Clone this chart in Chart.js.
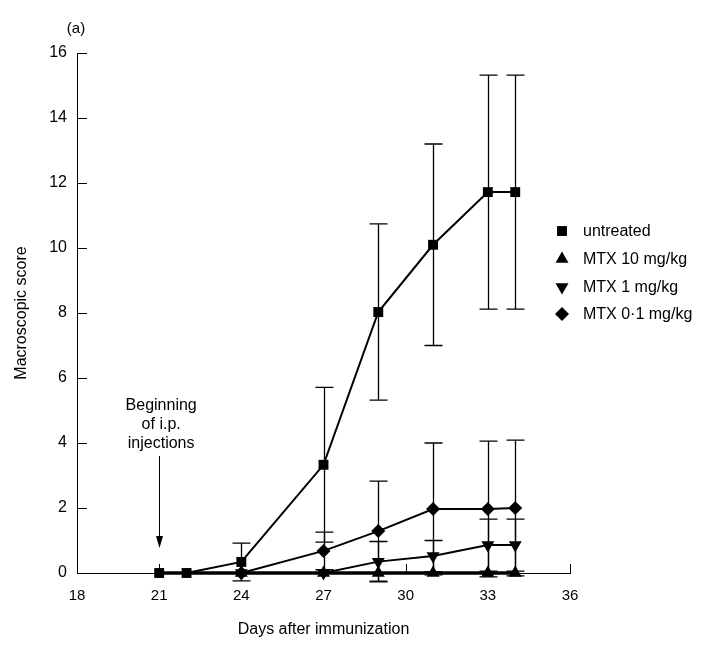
<!DOCTYPE html>
<html><head><meta charset="utf-8">
<script src="https://cdn.jsdelivr.net/npm/chart.js@4.4.0/dist/chart.umd.min.js"></script>
<style>html,body{margin:0;padding:0;background:#fff}#wrap{width:722px;height:656px;position:relative}</style>
</head><body><div id="wrap"><canvas id="c" width="722" height="656"></canvas></div>
<script>
const days = [21, 22, 24, 27, 29, 31, 33, 34];
const seriesLabels = ['untreated', 'MTX 10 mg/kg', 'MTX 1 mg/kg', 'MTX 0·1 mg/kg'];
const untreated    = [0, 0, 0.34, 3.33, 8.03, 10.1, 11.72, 11.72];
const untreatedErr = [0, 0, 0.58, 2.38, 2.71, 3.1, 3.6, 3.6];
const mtx10        = [0, 0, 0, 0, 0, 0, 0, 0];
const mtx10Err     = [0, 0, 0, 0, 0, 0, 0, 0];
const mtx1         = [0, 0, 0, 0, 0.35, 0.52, 0.86, 0.86];
const mtx1Err      = [0, 0, 0, 0, 0.62, 0.48, 0.8, 0.8];
const mtx01        = [0, 0, 0, 0.68, 1.29, 1.97, 1.97, 2.0];
const mtx01Err     = [0, 0, 0, 0.58, 1.54, 2.03, 2.09, 2.09];
const xTicks = [18, 21, 24, 27, 30, 33, 36];
const yTicks = [0, 2, 4, 6, 8, 10, 12, 14, 16];
const panelLabel = '(a)';
const noteLines = ['Beginning', 'of i.p.', 'injections'];
const noteDay = 21;

const FONT = '"Liberation Sans", Arial, Helvetica, sans-serif';
const pts = vals => days.map((d, i) => ({x: d, y: vals[i]}));
const styles = [
  {style: 'rect', rot: 0, r: 7},
  {style: 'triangle', rot: 0, r: 7.5},
  {style: 'triangle', rot: 180, r: 7.5},
  {style: 'rectRot', rot: 0, r: 7}
];
const errs = [untreatedErr, mtx10Err, mtx1Err, mtx01Err];
const values = [untreated, mtx10, mtx1, mtx01];

function mk(i, width) {
  return {
    label: seriesLabels[i],
    data: pts(values[i]),
    borderColor: '#000',
    backgroundColor: '#000',
    borderWidth: width,
    pointStyle: styles[i].style,
    rotation: styles[i].rot,
    pointRadius: ctx => (i > 0 && ctx.raw && ctx.raw.x < 24) ? 0 : styles[i].r,
    pointBorderWidth: 0,
    pointBackgroundColor: '#000',
    tension: 0,
    clip: false
  };
}

function drawMarker(ctx, style, x, y, r, rotDeg) {
  const rad = rotDeg * Math.PI / 180;
  ctx.beginPath();
  if (style === 'rect') {
    const s = Math.SQRT1_2 * r;
    ctx.rect(x - s, y - s, 2 * s, 2 * s);
  } else if (style === 'rectRot') {
    ctx.moveTo(x, y - r); ctx.lineTo(x + r, y); ctx.lineTo(x, y + r); ctx.lineTo(x - r, y);
    ctx.closePath();
  } else if (style === 'triangle') {
    let a = rad;
    ctx.moveTo(x + Math.sin(a) * r, y - Math.cos(a) * r);
    a += 2 * Math.PI / 3;
    ctx.lineTo(x + Math.sin(a) * r, y - Math.cos(a) * r);
    a += 2 * Math.PI / 3;
    ctx.lineTo(x + Math.sin(a) * r, y - Math.cos(a) * r);
    ctx.closePath();
  }
  ctx.fillStyle = '#000';
  ctx.fill();
}

const errorBars = {
  id: 'errorBars',
  beforeDatasetsDraw(chart) {
    const {ctx, scales: {x, y}} = chart;
    ctx.save();
    ctx.strokeStyle = '#000';
    ctx.lineWidth = 1.3;
    errs.forEach((e, k) => {
      e.forEach((v, i) => {
        if (!v) return;
        const px = Math.round(x.getPixelForValue(days[i])) + 0.5;
        const top = y.getPixelForValue(values[k][i] + v);
        const bot = y.getPixelForValue(values[k][i] - v);
        ctx.beginPath();
        ctx.moveTo(px, top); ctx.lineTo(px, bot);
        ctx.moveTo(px - 9, top); ctx.lineTo(px + 9, top);
        ctx.moveTo(px - 9, bot); ctx.lineTo(px + 9, bot);
        ctx.stroke();
      });
    });
    ctx.restore();
  }
};

const extras = {
  id: 'extras',
  afterDraw(chart) {
    const {ctx, chartArea: a, scales: {x, y}} = chart;
    ctx.save();
    ctx.strokeStyle = '#000';
    ctx.lineWidth = 1;
    // inward ticks
    xTicks.forEach(t => {
      const px = Math.round(x.getPixelForValue(t)) + 0.5;
      ctx.beginPath(); ctx.moveTo(px, a.bottom); ctx.lineTo(px, a.bottom - 9); ctx.stroke();
    });
    yTicks.forEach(t => {
      const py = Math.round(y.getPixelForValue(t)) + 0.5;
      ctx.beginPath(); ctx.moveTo(a.left, py); ctx.lineTo(a.left + 10, py); ctx.stroke();
    });
    // panel label
    ctx.fillStyle = '#000';
    ctx.font = '15px ' + FONT;
    ctx.textAlign = 'center';
    ctx.textBaseline = 'middle';
    ctx.fillText(panelLabel, 76, 29);
    // annotation
    const nx = x.getPixelForValue(noteDay);
    ctx.font = '16px ' + FONT;
    noteLines.forEach((s, i) => ctx.fillText(s, nx + 2, 406 + i * 19));
    const ax = Math.round(nx) + 0.5;
    ctx.beginPath(); ctx.moveTo(ax, 456); ctx.lineTo(ax, 540); ctx.stroke();
    ctx.beginPath(); ctx.moveTo(ax - 3.5, 536); ctx.lineTo(ax + 3.5, 536); ctx.lineTo(ax, 548); ctx.closePath(); ctx.fill();
    // legend
    ctx.textAlign = 'left';
    const rows = [231, 259, 287, 314];
    seriesLabels.forEach((lab, i) => {
      drawMarker(ctx, styles[i].style, 562, rows[i], styles[i].r, styles[i].rot);
      ctx.fillStyle = '#000';
      ctx.font = '16px ' + FONT;
      ctx.fillText(lab, 583, rows[i] + 1);
    });
    ctx.restore();
  }
};

new Chart(document.getElementById('c'), {
  type: 'line',
  data: {
    datasets: [mk(0, 2), mk(3, 2), mk(2, 2), mk(1, 3.5)]
  },
  options: {
    responsive: false,
    animation: false,
    devicePixelRatio: 1,
    layout: {padding: {top: 53, right: 152, bottom: 0, left: 0}},
    plugins: {legend: {display: false}, title: {display: false}, tooltip: {enabled: false}},
    scales: {
      x: {
        type: 'linear', min: 18, max: 36,
        afterBuildTicks: s => { s.ticks = xTicks.map(v => ({value: v})); },
        ticks: {color: '#000', font: {family: FONT, size: 15}, padding: 14, maxRotation: 0},
        grid: {display: true, drawOnChartArea: false, drawTicks: false, color: '#000'},
        border: {display: true, color: '#000', width: 1},
        title: {display: true, text: 'Days after immunization', color: '#000', font: {family: FONT, size: 16}, padding: {top: 0, bottom: 17}},
        afterFit: s => { s.height = 83; }
      },
      y: {
        type: 'linear', min: 0, max: 16,
        afterBuildTicks: s => { s.ticks = yTicks.map(v => ({value: v})); },
        ticks: {color: '#000', font: {family: FONT, size: 16}, padding: 10},
        grid: {display: true, drawOnChartArea: false, drawTicks: false, color: '#000'},
        border: {display: true, color: '#000', width: 1},
        title: {display: true, text: 'Macroscopic score', color: '#000', font: {family: FONT, size: 16}, padding: {top: 12, bottom: 0}},
        afterFit: s => { s.width = 77; }
      }
    }
  },
  plugins: [errorBars, extras]
});
</script>
</body></html>
